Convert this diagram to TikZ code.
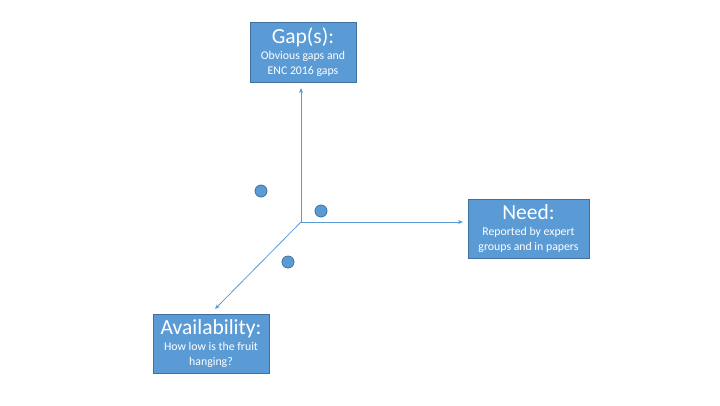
\documentclass[tikz,border=0pt]{standalone}
\usepackage{fontspec}
\setmainfont{Carlito}
\usetikzlibrary{arrows.meta}
\definecolor{boxfill}{HTML}{5B9BD5}
\definecolor{boxline}{HTML}{41719C}
\definecolor{axis}{HTML}{5B9BD5}
\newcommand{\ttltext}[1]{{\fontsize{21.5}{22}\selectfont #1}}
\tikzset{
  labelbox/.style={draw=boxline, line width=0.8pt, fill=boxfill, text=white, inner sep=0pt, align=center,
    font=\fontsize{11.8}{14.5}\selectfont},
  axisline/.style={draw=axis, line width=0.8pt, -{Stealth[length=5pt,width=4pt]}},
  dot/.style={circle, draw=boxline, line width=0.8pt, fill=boxfill, minimum size=12pt, inner sep=0pt}
}
\begin{document}
\begin{tikzpicture}[x=1pt,y=-1pt]
\useasboundingbox (0,0) rectangle (720,405);
\node[labelbox, minimum width=106pt, minimum height=60pt] (gap) at (303,52)
  {\ttltext{Gap(s):}\\[1.5pt]Obvious gaps and\\ENC 2016 gaps};
\node[labelbox, minimum width=121pt, minimum height=59pt] (need) at (528.5,228.5)
  {\ttltext{Need:}\\[1.5pt]Reported by expert\\groups and in papers};
\node[labelbox, minimum width=116pt, minimum height=59pt] (avail) at (211,343.5)
  {\ttltext{Availability:}\\[1.5pt]How low is the fruit\\hanging?};
\coordinate (o) at (301,222);
\coordinate (tup) at (301,88);
\coordinate (tright) at (463,222);
\coordinate (tdown) at (215,309);
\draw[axisline] (o) -- (tup);
\draw[axisline] (o) -- (tright);
\draw[axisline] (o) -- (tdown);
\node[dot] (d1) at (261,191) {};
\node[dot] (d2) at (321,211) {};
\node[dot] (d3) at (288,262) {};
\end{tikzpicture}
\end{document}
